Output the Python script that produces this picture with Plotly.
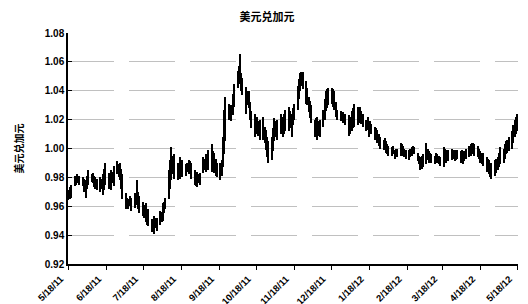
import pandas as pd
import plotly.graph_objects as go

# Trading days (Mon-Fri) from 2011-05-18 to 2012-05-18
dates = list(pd.bdate_range("2011-05-18", "2012-05-18"))

# Daily low / high of USD/CAD, one row per week (Mon..Fri)
lows = [
    0.964, 0.965, 0.966,
    0.974, 0.975, 0.976, 0.977, 0.975,
    0.974, 0.970, 0.966, 0.972, 0.975,
    0.977, 0.976, 0.973, 0.972, 0.971,
    0.970, 0.972, 0.968, 0.971, 0.975,
    0.972, 0.975, 0.971, 0.976, 0.974,
    0.982, 0.980, 0.978, 0.972, 0.965,
    0.958, 0.959, 0.958, 0.960, 0.957,
    0.959, 0.961, 0.962, 0.958, 0.955,
    0.953, 0.952, 0.949, 0.947, 0.946,
    0.942, 0.944, 0.941, 0.945, 0.943,
    0.947, 0.949, 0.950, 0.955, 0.958,
    0.965, 0.972, 0.978, 0.982, 0.979,
    0.978, 0.982, 0.979, 0.983, 0.980,
    0.981, 0.984, 0.982, 0.983, 0.979,
    0.975, 0.974, 0.973, 0.976, 0.975,
    0.983, 0.985, 0.984, 0.986, 0.985,
    0.984, 0.988, 0.983, 0.981, 0.980,
    0.978, 0.981, 0.987, 0.996, 1.005,
    1.020, 1.022, 1.019, 1.023, 1.029,
    1.042, 1.046, 1.045, 1.040, 1.037,
    1.024, 1.030, 1.028, 1.020, 1.014,
    1.008, 1.012, 1.010, 1.009, 1.006,
    1.006, 1.004, 0.999, 0.994, 0.990,
    0.992, 0.998, 1.005, 1.008, 1.006,
    1.010, 1.013, 1.008, 1.010, 1.012,
    1.012, 1.014, 1.008, 1.016, 1.020,
    1.027, 1.034, 1.040, 1.043, 1.041,
    1.031, 1.030, 1.025, 1.021, 1.018,
    1.008, 1.010, 1.006, 1.009, 1.008,
    1.015, 1.020, 1.026, 1.028, 1.030,
    1.031, 1.029, 1.027, 1.022, 1.020,
    1.019, 1.020, 1.018, 1.019, 1.016,
    1.009, 1.010, 1.012, 1.014, 1.015,
    1.016, 1.019, 1.018, 1.017, 1.015,
    1.012, 1.013, 1.008, 1.011, 1.010,
    1.006, 1.007, 1.004, 1.002, 1.000,
    0.999, 1.000, 0.997, 0.996, 0.995,
    0.995, 0.996, 0.993, 0.995, 0.994,
    0.995, 0.997, 0.995, 0.994, 0.993,
    0.992, 0.994, 0.995, 0.996, 0.996,
    0.991, 0.989, 0.985, 0.986, 0.987,
    0.989, 0.992, 0.990, 0.991, 0.990,
    0.989, 0.991, 0.990, 0.989, 0.988,
    0.987, 0.991, 0.990, 0.992, 0.991,
    0.992, 0.993, 0.991, 0.992, 0.993,
    0.990, 0.991, 0.989, 0.991, 0.993,
    0.994, 0.995, 0.996, 0.997, 0.995,
    0.994, 0.993, 0.990, 0.989, 0.988,
    0.984, 0.985, 0.982, 0.980, 0.979,
    0.981, 0.983, 0.985, 0.987, 0.989,
    0.990, 0.993, 0.996, 0.997, 0.998,
    1.000, 1.004, 1.008, 1.010, 1.012,
]
highs = [
    0.971, 0.973, 0.975,
    0.981, 0.980, 0.982, 0.981, 0.981,
    0.980, 0.979, 0.978, 0.981, 0.985,
    0.982, 0.983, 0.981, 0.980, 0.979,
    0.980, 0.979, 0.982, 0.986, 0.990,
    0.983, 0.981, 0.985, 0.984, 0.988,
    0.991, 0.989, 0.990, 0.986, 0.982,
    0.969, 0.966, 0.965, 0.967, 0.966,
    0.969, 0.968, 0.978, 0.970, 0.967,
    0.963, 0.961, 0.962, 0.957, 0.958,
    0.951, 0.950, 0.953, 0.952, 0.952,
    0.957, 0.956, 0.962, 0.963, 0.966,
    0.985, 0.992, 1.001, 0.995, 0.996,
    0.990, 0.989, 0.994, 0.991, 0.992,
    0.989, 0.990, 0.992, 0.991, 0.990,
    0.985, 0.983, 0.984, 0.982, 0.983,
    0.994, 0.993, 0.996, 0.995, 0.999,
    1.003, 0.998, 0.997, 0.993, 0.990,
    0.990, 0.992, 1.008, 1.027, 1.036,
    1.031, 1.029, 1.030, 1.038, 1.045,
    1.054, 1.057, 1.0655, 1.052, 1.049,
    1.0425, 1.040, 1.040, 1.032, 1.026,
    1.024, 1.021, 1.022, 1.019, 1.020,
    1.022, 1.015, 1.013, 1.008, 1.005,
    1.008, 1.014, 1.021, 1.019, 1.020,
    1.024, 1.022, 1.022, 1.024, 1.027,
    1.029, 1.026, 1.024, 1.028, 1.031,
    1.043, 1.048, 1.052, 1.053, 1.053,
    1.047, 1.042, 1.036, 1.033, 1.030,
    1.020, 1.021, 1.022, 1.019, 1.020,
    1.027, 1.034, 1.040, 1.041, 1.042,
    1.042, 1.041, 1.040, 1.032, 1.027,
    1.026, 1.025, 1.025, 1.024, 1.024,
    1.023, 1.022, 1.026, 1.028, 1.031,
    1.029, 1.027, 1.029, 1.026, 1.024,
    1.020, 1.022, 1.018, 1.019, 1.017,
    1.015, 1.014, 1.013, 1.010, 1.008,
    1.006, 1.007, 1.005, 1.003, 1.002,
    1.001, 1.002, 0.999, 1.000, 1.000,
    1.004, 1.003, 1.002, 1.000, 0.999,
    0.999, 1.000, 1.001, 1.002, 1.001,
    0.997, 0.995, 0.994, 0.995, 0.996,
    1.004, 1.000, 0.998, 0.997, 0.996,
    0.995, 0.997, 0.996, 0.995, 0.994,
    1.001, 1.000, 0.999, 0.998, 0.999,
    1.000, 0.999, 0.999, 0.998, 0.999,
    0.998, 0.999, 0.997, 0.998, 1.000,
    1.002, 1.003, 1.004, 1.004, 1.003,
    1.002, 1.000, 0.998, 0.997, 0.997,
    0.994, 0.993, 0.992, 0.990, 0.990,
    0.992, 0.993, 0.994, 0.997, 1.001,
    1.000, 1.003, 1.005, 1.006, 1.008,
    1.012, 1.016, 1.020, 1.022, 1.024,
]
assert len(dates) == len(lows) == len(highs), (len(dates), len(lows), len(highs))

tick_dates = list(pd.date_range("2011-05-01", "2012-05-01", freq="MS") + pd.Timedelta(days=17))
y_ticks = [0.92, 0.94, 0.96, 0.98, 1.00, 1.02, 1.04, 1.06, 1.08]

title_text = "美元兑加元"
axis_title = "美元兑加元"

FONT = "Liberation Sans, Arial, Noto Sans CJK SC, sans-serif"

fig = go.Figure()
fig.add_trace(go.Bar(
    x=dates,
    y=[h - l for h, l in zip(highs, lows)],
    base=lows,
    width=1.2 * 86400000,
    marker=dict(color="black", line=dict(width=0)),
    hoverinfo="skip",
))

# The page places the figure 8px from the top-left corner (default body margin),
# so the figure is 8px smaller and the margins compensate.
fig.update_layout(
    width=520, height=296,
    margin=dict(l=60, r=10, t=25, b=40),
    paper_bgcolor="white", plot_bgcolor="white",
    showlegend=False,
    bargap=0,
    title=dict(text=title_text, x=259 / 520, xref="container", y=1 - 9 / 296, yref="container",
               xanchor="center", yanchor="middle",
               font=dict(family="Noto Sans CJK SC", size=11, color="black", weight="bold")),
    font=dict(family=FONT, size=10, color="black", weight="bold"),
)
fig.update_xaxes(
    type="date",
    automargin=False,
    range=["2011-05-17 12:00", "2012-05-18 12:00"],
    tickvals=tick_dates,
    tickformat="%-m/%d/%y",
    tickangle=-45,
    ticklabelshift=-8,
    ticks="outside", ticklen=4, tickcolor="black",
    showline=True, linecolor="black", linewidth=1.5,
    showgrid=False, zeroline=False,
    tickfont=dict(family=FONT, size=9.5, color="black", weight="bold"),
)
fig.update_yaxes(
    automargin=False,
    range=[0.92, 1.08],
    tickvals=y_ticks,
    tickformat=".2f",
    ticks="inside", ticklen=4, tickcolor="black",
    showline=True, linecolor="black", linewidth=1.5,
    showgrid=True, gridcolor="#c0c0c0", gridwidth=1, griddash="46px,15px",
    zeroline=False,
    title=dict(text=axis_title, standoff=19,
               font=dict(family="Noto Sans CJK SC", size=10, color="black", weight="bold")),
    tickfont=dict(family=FONT, size=10, color="black", weight="bold"),
)

fig.write_html("out.html")
